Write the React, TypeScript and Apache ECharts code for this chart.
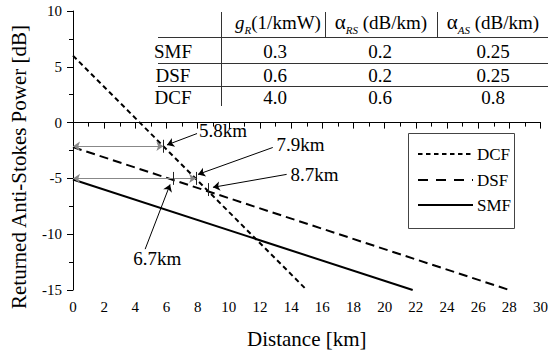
import React, { useEffect, useRef } from "react";
import * as echarts from "echarts";

// ---- data ----
const dcfX = [0, 15];
const dcfY = [6, -15];
const dsfX = [0, 28];
const dsfY = [-2.2, -15];
const smfX = [0, 21.8];
const smfY = [-5.1, -15];

// annotation crossing marks [x, y]
const crossX = [5.8, 6.45, 7.9, 8.7];
const crossY = [-2.12, -5, -5, -6.0];

// double-headed horizontal arrows (from x=0 to x at level y)
const hArrowX = [5.8, 7.9];
const hArrowY = [-2.12, -5];

// labels and their pointer arrows
const labelTexts = ["5.8km", "7.9km", "8.7km", "6.7km"];
const labelX = [9.62, 14.6, 15.5, 5.4];
const labelY = [-0.71, -1.96, -4.64, -12.14];
const ptrFromX = [7.96, 12.82, 13.71, 4.63];
const ptrFromY = [-0.98, -2.23, -4.64, -11.34];
const ptrToX = [6.03, 8.02, 8.98, 6.23];
const ptrToY = [-2.0, -4.64, -5.8, -5.54];

// table
const tableRows = ["SMF", "DSF", "DCF"];
const gR = ["0.3", "0.6", "4.0"];
const aRS = ["0.2", "0.2", "0.6"];
const aAS = ["0.25", "0.25", "0.8"];

const legendNames = ["DCF", "DSF", "SMF"];

const FONT = "Liberation Serif";

function pts(xs: number[], ys: number[]) {
  return xs.map((x, i) => [x, ys[i]]);
}

export default function App() {
  const ref = useRef<HTMLDivElement>(null);
  useEffect(() => {
    if (!ref.current) return;
    const chart = echarts.init(ref.current, null, { renderer: "svg" });

    const markLines: any[] = [];
    hArrowX.forEach((x, i) => {
      markLines.push([
        { coord: [0, hArrowY[i]], symbol: "arrow", lineStyle: { color: "#888", width: 1, type: "solid" } },
        { coord: [x, hArrowY[i]], symbol: "arrow" },
      ]);
    });
    crossX.forEach((x, i) => {
      markLines.push([
        { coord: [x, crossY[i] - 0.58], symbol: "none", lineStyle: { color: "#222", width: 1, type: "solid" } },
        { coord: [x, crossY[i] + 0.58], symbol: "none" },
      ]);
    });
    ptrFromX.forEach((x, i) => {
      markLines.push([
        { coord: [x, ptrFromY[i]], symbol: "none", lineStyle: { color: "#000", width: 1, type: "solid" } },
        { coord: [ptrToX[i], ptrToY[i]], symbol: "arrow" },
      ]);
    });

    const txt = (size: number, extra: any = {}) => ({
      fontFamily: FONT,
      fontSize: size,
      fill: "#000",
      ...extra,
    });

    const tableGraphics: any[] = [];
    const lineStyle = { stroke: "#333", lineWidth: 1 };
    tableGraphics.push({ type: "line", shape: { x1: 221.5, y1: 12, x2: 221.5, y2: 106 }, style: lineStyle });
    tableGraphics.push({ type: "line", shape: { x1: 325.5, y1: 12, x2: 325.5, y2: 37 }, style: lineStyle });
    tableGraphics.push({ type: "line", shape: { x1: 437.5, y1: 12, x2: 437.5, y2: 37 }, style: lineStyle });
    [37.5, 63.5, 86.5].forEach((y) => {
      tableGraphics.push({ type: "line", shape: { x1: 158, y1: y, x2: 548, y2: y }, style: lineStyle });
    });
    const rich = {
      n: { fontFamily: FONT, fontSize: 19, lineHeight: 26, color: "#000", verticalAlign: "middle" },
      i: { fontFamily: FONT, fontSize: 19, lineHeight: 26, fontStyle: "italic", color: "#000", verticalAlign: "middle" },
      g: { fontFamily: FONT, fontSize: 21, lineHeight: 26, color: "#000", verticalAlign: "middle" },
      s: { fontFamily: FONT, fontSize: 11, lineHeight: 11, fontStyle: "italic", color: "#000", verticalAlign: "bottom" },
    };
    const headers = [
      { x: 278, text: "{i|g}{s|R}{n|(1/kmW)}" },
      { x: 381, text: "{g|α}{s|RS}{n| (dB/km)}" },
      { x: 493, text: "{g|α}{s|AS}{n| (dB/km)}" },
    ];
    headers.forEach((h) => {
      tableGraphics.push({
        type: "text",
        x: h.x,
        y: 22,
        style: { text: h.text, rich, fontFamily: FONT, fontSize: 19, align: "center", verticalAlign: "middle" },
      });
    });
    const rowYs = [51, 75, 97];
    tableRows.forEach((r, i) => {
      const y = rowYs[i];
      const cells = [
        { x: 173, t: r },
        { x: 275, t: gR[i] },
        { x: 380, t: aRS[i] },
        { x: 493, t: aAS[i] },
      ];
      cells.forEach((c) => {
        tableGraphics.push({
          type: "text",
          x: c.x,
          y,
          style: txt(19, { text: c.t, align: "center", verticalAlign: "middle" }),
        });
      });
    });

    // legend box
    const legendGraphics: any[] = [];
    legendGraphics.push({
      type: "rect",
      shape: { x: 408.5, y: 133.5, width: 106, height: 95 },
      style: { fill: "#fff", stroke: "#444", lineWidth: 1 },
      z: 10,
    });
    const legendDash: any[] = [[4.5, 3.5], [10, 8], null];
    const legendYs = [154, 180, 205];
    legendNames.forEach((n, i) => {
      legendGraphics.push({
        type: "line",
        shape: { x1: 418, y1: legendYs[i], x2: 473, y2: legendYs[i] },
        style: { stroke: "#000", lineWidth: 2, lineDash: legendDash[i] || undefined },
        z: 11,
      });
      legendGraphics.push({
        type: "text",
        x: 477,
        y: legendYs[i],
        style: txt(17, { text: n, align: "left", verticalAlign: "middle" }),
        z: 11,
      });
    });

    // y axis title
    const titleGraphics: any[] = [
      {
        type: "text",
        x: 19,
        y: 167,
        rotation: Math.PI / 2,
        style: txt(21, { text: "Returned Anti-Stokes Power [dB]", align: "center", verticalAlign: "middle" }),
      },
    ];

    const axisCommon = {
      axisLine: { show: true, lineStyle: { color: "#000", width: 1 } },
      axisTick: { show: true, length: 6, inside: false, lineStyle: { color: "#000" } },
      minorTick: { show: true, splitNumber: 2, length: 4, lineStyle: { color: "#000" } },
      splitLine: { show: false },
      minorSplitLine: { show: false },
    };

    chart.setOption({
      animation: false,
      backgroundColor: "#fff",
      textStyle: { fontFamily: FONT },
      grid: { left: 73, right: 9.5, top: 11, bottom: 62, containLabel: false },
      xAxis: {
        type: "value",
        min: 0,
        max: 30,
        interval: 2,
        name: "Distance [km]",
        nameLocation: "middle",
        nameGap: 38,
        nameTextStyle: { fontFamily: FONT, fontSize: 21, color: "#000" },
        ...axisCommon,
        axisLabel: { fontFamily: FONT, fontSize: 15, color: "#000", margin: 9 },
      },
      yAxis: {
        type: "value",
        min: -15,
        max: 10,
        interval: 5,
        ...axisCommon,
        axisLabel: { fontFamily: FONT, fontSize: 15, color: "#000", margin: 11 },
      },
      series: [
        {
          name: "DCF",
          type: "line",
          data: pts(dcfX, dcfY),
          showSymbol: false,
          symbol: "none",
          lineStyle: { color: "#000", width: 2, type: [5, 3.5] },
          z: 3,
        },
        {
          name: "DSF",
          type: "line",
          data: pts(dsfX, dsfY),
          showSymbol: false,
          symbol: "none",
          lineStyle: { color: "#000", width: 2, type: [9, 5] },
          z: 3,
        },
        {
          name: "SMF",
          type: "line",
          data: pts(smfX, smfY),
          showSymbol: false,
          symbol: "none",
          lineStyle: { color: "#000", width: 2, type: "solid" },
          z: 3,
        },
        {
          name: "annotations",
          type: "scatter",
          data: pts(labelX, labelY).map((p, i) => ({ value: p, name: labelTexts[i] })),
          symbolSize: 1,
          itemStyle: { color: "rgba(0,0,0,0)" },
          silent: true,
          label: {
            show: true,
            position: "inside",
            formatter: (p: any) => p.name,
            fontFamily: FONT,
            fontSize: 19,
            color: "#000",
            textBorderWidth: 0,
            opacity: 1,
          },
          markLine: {
            silent: true,
            symbol: ["none", "arrow"],
            symbolSize: 7,
            label: { show: false },
            emphasis: { disabled: true },
            data: markLines,
          },
          z: 5,
        },
      ],
      graphic: [...tableGraphics, ...legendGraphics, ...titleGraphics],
    });
    return () => chart.dispose();
  }, []);
  return (
    <div
      ref={ref}
      style={{ position: "absolute", left: 0, top: 0, width: 551, height: 354, background: "#fff" }}
    />
  );
}
